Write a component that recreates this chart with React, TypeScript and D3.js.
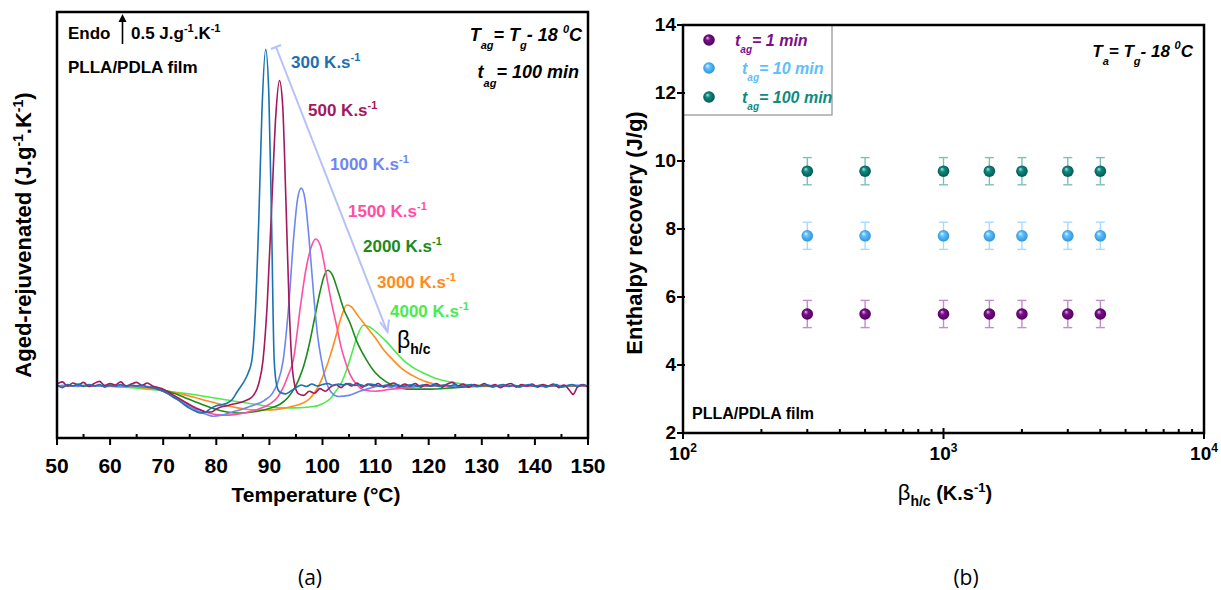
import React from 'react';
import * as d3 from 'd3';

const W = 1221;
const H = 590;

// ---------- Panel (a): Aged - rejuvenated curves (T in °C, value in J.g-1.K-1) ----------
const rateLabels = ['300', '500', '1000', '1500', '2000', '3000', '4000'];
const rateColors = ['#1B72B0', '#A3195B', '#6E86F2', '#FF4FA3', '#1C8A1C', '#FF8C1A', '#4CEB4C'];

const curve300: [number, number][] = [
  [50, 0.02], [51, -0.03], [52, 0.03], [53, 0.0], [54, 0.04], [55, -0.01], [56, 0.03], [57, 0.0], [58, 0.03], [59, -0.02],
  [60, 0.02], [61, 0.0], [62, 0.03], [63, -0.01], [64, 0.02], [65, 0.0], [66, 0.02], [67, -0.02], [68, -0.03], [69, -0.06],
  [70, -0.1], [71, -0.15], [72, -0.22], [73, -0.28], [74, -0.36], [75, -0.43], [76, -0.48], [77, -0.52], [78, -0.5], [79, -0.43],
  [80, -0.38], [81, -0.36], [82, -0.33], [83, -0.26], [84, -0.1], [85, 0.05], [86, 0.25], [86.7, 0.5], [87.3, 1.3], [88, 3.2],
  [88.6, 5.3], [89.3, 6.48], [89.9, 5.6], [90.4, 3.2], [90.9, 0.5], [91.4, 0.0], [92, -0.12], [93, -0.15], [94, -0.1], [95, -0.03],
  [96, 0.02], [97, -0.01], [98, 0.04], [99, 0.0], [100, 0.03], [101, 0.05], [102, 0.01], [103, 0.04], [104, 0.02], [105, 0.05],
  [106, 0.01], [107, 0.03], [108, 0.0], [109, 0.04], [110, 0.02], [111, -0.01], [112, 0.02], [113, 0.0], [114, 0.03], [115, -0.01],
  [116, 0.01], [117, 0.03], [118, -0.01], [119, 0.02], [120, 0.0], [121, 0.03], [122, -0.01], [123, 0.02], [124, 0.0], [125, 0.03],
  [126, -0.02], [127, 0.01], [128, 0.03], [129, -0.01], [130, 0.01], [131, 0.02], [132, -0.02], [133, 0.01], [134, 0.03], [135, -0.01],
  [136, 0.02], [137, -0.02], [138, 0.01], [139, 0.03], [140, -0.01], [141, 0.02], [142, -0.02], [143, 0.01], [144, 0.03], [145, -0.02],
  [146, 0.0], [147, 0.03], [148, -0.01], [149, 0.02], [150, 0.0],
];

const curve500: [number, number][] = [
  [50, 0.04], [51, 0.08], [52, 0.0], [53, 0.06], [54, 0.02], [55, 0.07], [56, -0.01], [57, 0.05], [58, 0.09], [59, 0.01],
  [60, 0.05], [61, 0.02], [62, 0.08], [63, 0.0], [64, 0.04], [65, 0.07], [66, 0.01], [67, 0.06], [68, 0.0], [69, -0.03],
  [70, -0.06], [71, -0.12], [72, -0.18], [73, -0.24], [74, -0.3], [75, -0.36], [76, -0.42], [77, -0.46], [78, -0.5], [79, -0.5],
  [80, -0.44], [81, -0.4], [82, -0.38], [83, -0.35], [84, -0.33], [85, -0.3], [86, -0.26], [87, -0.18], [88, 0.05], [88.8, 0.5],
  [89.6, 1.6], [90.4, 3.4], [91.2, 5.2], [91.9, 5.88], [92.5, 5.4], [93.1, 3.6], [93.7, 1.6], [94.2, 0.5], [94.8, 0.0], [95.5, -0.15],
  [96.5, -0.18], [97.5, -0.1], [98.5, -0.14], [99.5, -0.05], [100.5, -0.1], [101.5, -0.02], [102.5, 0.03], [103.5, -0.03], [104.5, 0.05], [105.5, 0.0],
  [106.5, 0.06], [107.5, -0.02], [108.5, 0.04], [109.5, 0.0], [110.5, 0.05], [111.5, -0.02], [112.5, 0.03], [113.5, 0.06], [114.5, -0.01], [115.5, 0.04],
  [116.5, 0.0], [117.5, 0.05], [118.5, -0.02], [119.5, 0.03], [120.5, 0.0], [121.5, 0.05], [122.5, -0.02], [123.5, 0.04], [124.5, 0.07], [125.5, 0.0],
  [126.5, 0.04], [127.5, -0.02], [128.5, 0.03], [129.5, 0.0], [130.5, 0.05], [131.5, -0.01], [132.5, 0.03], [133.5, -0.03], [134.5, 0.02], [135.5, 0.05],
  [136.5, -0.02], [137.5, 0.03], [138.5, 0.0], [139.5, 0.04], [140.5, -0.02], [141.5, 0.03], [142.5, 0.0], [143.5, 0.04], [144.5, -0.03], [145.5, 0.02],
  [146.5, -0.08], [147.2, -0.16], [148, -0.02], [149, 0.03], [150, -0.02],
];

const curve1000: [number, number][] = [
  [50, 0.0], [52, 0.02], [54, -0.01], [56, 0.02], [58, 0.0], [60, 0.02], [62, -0.01], [64, 0.01], [66, 0.0], [68, -0.02],
  [70, -0.1], [72, -0.22], [74, -0.34], [76, -0.45], [78, -0.54], [79.4, -0.58], [81, -0.56], [83, -0.5], [85, -0.44], [87, -0.37],
  [89, -0.28], [90.5, -0.15], [91.5, 0.05], [92.6, 0.5], [93.6, 1.5], [94.6, 2.9], [95.3, 3.6], [96, 3.81], [96.7, 3.6], [97.5, 2.8],
  [98.3, 1.8], [99.1, 0.95], [99.8, 0.5], [100.6, 0.12], [101.5, -0.1], [103, -0.2], [105, -0.18], [107, -0.1], [109, -0.04], [111, 0.0],
  [113, -0.02], [115, 0.01], [117, -0.01], [119, 0.02], [121, 0.0], [123, 0.02], [125, -0.01], [127, 0.01], [129, 0.0], [131, 0.02],
  [133, -0.01], [135, 0.01], [137, 0.0], [139, 0.02], [141, -0.01], [143, 0.01], [145, 0.0], [147, 0.02], [150, 0.0],
];

const curve1500: [number, number][] = [
  [50, 0.0], [54, 0.01], [58, 0.0], [62, 0.01], [66, 0.0], [68, -0.03], [70, -0.1], [72, -0.2], [74, -0.31], [76, -0.41],
  [78, -0.5], [80, -0.55], [82, -0.56], [84, -0.54], [86, -0.5], [88, -0.44], [90, -0.35], [91.5, -0.22], [92.5, -0.05], [93.5, 0.2],
  [94.5, 0.5], [95.8, 1.5], [96.8, 2.2], [97.8, 2.65], [98.7, 2.83], [99.6, 2.7], [100.6, 2.2], [101.6, 1.65], [102.7, 1.14], [103.5, 0.75],
  [104.2, 0.5], [105.2, 0.22], [106.5, 0.02], [108, -0.08], [110, -0.1], [113, -0.06], [117, -0.02], [120, 0.0], [125, 0.0], [130, 0.01],
  [135, 0.0], [140, 0.0], [145, 0.01], [150, 0.0],
];

const curve2000: [number, number][] = [
  [50, 0.0], [55, 0.01], [60, 0.0], [64, 0.0], [66, -0.01], [68, -0.03], [70, -0.07], [72, -0.14], [74, -0.22], [76, -0.3],
  [78, -0.38], [80, -0.45], [82, -0.5], [84, -0.52], [86, -0.51], [88, -0.48], [90, -0.43], [92, -0.35], [93.5, -0.22], [94.5, -0.08],
  [95.5, 0.12], [96.5, 0.4], [97.5, 0.8], [98.5, 1.3], [99.5, 1.8], [100.3, 2.12], [101, 2.23], [101.8, 2.15], [103, 1.8], [104, 1.48],
  [105.2, 1.21], [106.5, 0.85], [108.3, 0.5], [110, 0.25], [112, 0.08], [114, -0.02], [116, -0.06], [120, -0.06], [125, -0.03], [130, 0.0],
  [135, 0.0], [140, 0.0], [145, 0.0], [150, 0.0],
];

const curve3000: [number, number][] = [
  [50, 0.0], [55, 0.0], [60, 0.0], [62, 0.0], [64, -0.01], [66, -0.03], [68, -0.05], [70, -0.08], [72, -0.12], [74, -0.17],
  [76, -0.22], [78, -0.28], [80, -0.33], [82, -0.38], [84, -0.42], [86, -0.45], [88, -0.46], [90, -0.46], [92, -0.44], [94, -0.4],
  [96, -0.34], [97.5, -0.25], [98.5, -0.13], [99.5, 0.05], [100.5, 0.3], [101.5, 0.6], [102.5, 0.95], [103.5, 1.32], [104.6, 1.56], [105.5, 1.52],
  [106.5, 1.38], [108, 1.18], [110, 0.92], [111.5, 0.7], [113.3, 0.5], [115, 0.33], [117, 0.2], [119, 0.1], [121, 0.04], [124, 0.0],
  [127, -0.02], [130, -0.01], [135, 0.0], [140, 0.0], [145, 0.0], [150, 0.0],
];

const curve4000: [number, number][] = [
  [50, 0.0], [54, 0.0], [58, 0.0], [60, -0.01], [62, -0.02], [64, -0.03], [66, -0.05], [68, -0.07], [70, -0.09], [74, -0.14],
  [78, -0.2], [82, -0.27], [86, -0.33], [89, -0.38], [92, -0.42], [95, -0.42], [98, -0.4], [100, -0.34], [101.5, -0.24], [102.5, -0.1],
  [103.5, 0.05], [104.5, 0.3], [105.5, 0.62], [106.5, 0.95], [107.7, 1.17], [108.8, 1.14], [110, 1.05], [112, 0.86], [114, 0.63], [115.2, 0.5],
  [117, 0.36], [119, 0.25], [121, 0.16], [124, 0.08], [127, 0.03], [130, 0.01], [135, 0.0], [140, 0.0], [145, 0.0], [150, 0.0],
];

const curvesA = [curve300, curve500, curve1000, curve1500, curve2000, curve3000, curve4000];
const rateLabelPos: [number, number][] = [
  [291, 68], [308, 116], [330, 170], [348, 217], [363, 252], [377, 288], [390, 317],
];
const xTicksA = [50, 60, 70, 80, 90, 100, 110, 120, 130, 140, 150];
const xMinorTicksA = [55, 65, 75, 85, 95, 105, 115, 125, 135, 145];

// ---------- Panel (b): enthalpy recovery vs heating/cooling rate ----------
const betaValues = [300, 500, 1000, 1500, 2000, 3000, 4000];
const recovery1min = [5.5, 5.5, 5.5, 5.5, 5.5, 5.5, 5.5];
const recovery10min = [7.8, 7.8, 7.8, 7.8, 7.8, 7.8, 7.8];
const recovery100min = [9.7, 9.7, 9.7, 9.7, 9.7, 9.7, 9.7];
const recoveryError = [0.4, 0.4, 0.4, 0.4, 0.4, 0.4, 0.4];
const agingTimes = ['1', '10', '100'];
const seriesColors = ['#7A0F8A', '#5CC0FF', '#0E8A82'];
const seriesLight = ['#E7B8EE', '#E2F5FF', '#B5E6E2'];
const seriesDark = ['#4A0056', '#2E8ED0', '#04524C'];
const errColors = ['#C58BCE', '#A6DBFF', '#7CC0BC'];
const yTicksB = [2, 4, 6, 8, 10, 12, 14];
const xMajorB = [100, 1000, 10000];
const xMajorExp = ['2', '3', '4'];
const xMinorB = [200, 300, 400, 500, 600, 700, 800, 900, 2000, 3000, 4000, 5000, 6000, 7000, 8000, 9000];

const FONT = "'Liberation Sans', Arial, sans-serif";

export default function App() {
  // scales panel (a)
  const xA = d3.scaleLinear().domain([50, 150]).range([57, 588]);
  const yA = d3.scaleLinear().domain([-1, 7.2]).range([438, 12]);
  const lineA = d3
    .line<[number, number]>()
    .x((d) => xA(d[0]))
    .y((d) => yA(d[1]))
    .curve(d3.curveMonotoneX);

  // scales panel (b)
  const xB = d3.scaleLog().domain([100, 10000]).range([683, 1204]);
  const yB = d3.scaleLinear().domain([2, 14]).range([433, 25]);
  const seriesB = [recovery1min, recovery10min, recovery100min];

  const aL = xA.range()[0];
  const aR = xA.range()[1];
  const aT = yA.range()[1];
  const aB = yA.range()[0];
  const bL = xB.range()[0];
  const bR = xB.range()[1];
  const bT = yB.range()[1];
  const bB = yB.range()[0];

  const drawOrder = [6, 5, 4, 3, 2, 1, 0];

  return (
    <svg
      width={W}
      height={H}
      viewBox={`0 0 ${W} ${H}`}
      style={{ position: 'absolute', left: 0, top: 0, background: '#fff' }}
      fontFamily={FONT}
    >
      <defs>
        {seriesColors.map((c, i) => (
          <radialGradient key={i} id={`ball${i}`} cx="0.5" cy="0.5" r="0.55" fx="0.35" fy="0.3">
            <stop offset="0" stopColor={seriesLight[i]} />
            <stop offset="0.35" stopColor={c} />
            <stop offset="1" stopColor={seriesDark[i]} />
          </radialGradient>
        ))}
      </defs>
      <rect x={0} y={0} width={W} height={H} fill="#fff" />

      {/* ================= Panel (a) ================= */}
      <clipPath id="clipA">
        <rect x={aL} y={aT} width={aR - aL} height={aB - aT} />
      </clipPath>
      <g clipPath="url(#clipA)">
        {drawOrder.map((i) => (
          <path key={i} d={lineA(curvesA[i]) || ''} fill="none" stroke={rateColors[i]} strokeWidth={1.6} />
        ))}
      </g>

      {/* frame */}
      <rect x={aL} y={aT} width={aR - aL} height={aB - aT} fill="none" stroke="#000" strokeWidth={2.5} />
      {/* x ticks */}
      {xTicksA.map((t) => (
        <g key={t}>
          <line x1={xA(t)} x2={xA(t)} y1={aB} y2={aB + 7} stroke="#000" strokeWidth={2} />
          <text x={xA(t)} y={aB + 35} textAnchor="middle" fontSize={21} fontWeight="bold">
            {t}
          </text>
        </g>
      ))}
      {xMinorTicksA.map((t) => (
        <line key={t} x1={xA(t)} x2={xA(t)} y1={aB} y2={aB - 4} stroke="#000" strokeWidth={2} />
      ))}

      {/* axis labels */}
      <text x={316} y={502} textAnchor="middle" fontSize={21} fontWeight="bold">
        Temperature (°C)
      </text>
      <text transform={`translate(31,${235}) rotate(-90)`} textAnchor="middle" fontSize={22} fontWeight="bold">
        Aged-rejuvenated (J.g<tspan dy={-8} fontSize={14}>-1</tspan>
        <tspan dy={8}>.K</tspan>
        <tspan dy={-8} fontSize={14}>-1</tspan>
        <tspan dy={8}>)</tspan>
      </text>

      {/* annotations */}
      <text x={68} y={39} fontSize={17} fontWeight="bold">Endo</text>
      <line x1={122.5} x2={122.5} y1={44} y2={20} stroke="#000" strokeWidth={1.6} />
      <path d="M118.5,22 L122.5,14 L126.5,22 Z" fill="#000" />
      <text x={131} y={39} fontSize={17} fontWeight="bold">
        0.5 J.g<tspan dy={-7} fontSize={11}>-1</tspan>
        <tspan dy={7}>.K</tspan>
        <tspan dy={-7} fontSize={11}>-1</tspan>
      </text>
      <text x={68} y={73} fontSize={17} fontWeight="bold">PLLA/PDLA film</text>

      <text x={582} y={41} textAnchor="end" fontSize={18} fontWeight="bold" fontStyle="italic">
        T<tspan dy={8} fontSize={11}>ag</tspan>
        <tspan dy={-8}>= T</tspan>
        <tspan dy={8} fontSize={11}>g</tspan>
        <tspan dy={-8}>- 18 </tspan>
        <tspan dy={-8} fontSize={11}>0</tspan>
        <tspan dy={8}>C</tspan>
      </text>
      <text x={579} y={78} textAnchor="end" fontSize={18} fontWeight="bold" fontStyle="italic">
        t<tspan dy={9} fontSize={11}>ag</tspan>
        <tspan dy={-9}>= 100 min</tspan>
      </text>

      {rateLabels.map((r, i) => (
        <text key={r} x={rateLabelPos[i][0]} y={rateLabelPos[i][1]} fill={rateColors[i]} fontSize={17} fontWeight="bold">
          {r} K.s<tspan dy={-7} fontSize={11}>-1</tspan>
        </text>
      ))}

      {/* direction arrow */}
      <g stroke="#B5C2F7" strokeWidth={2} fill="none">
        <line x1={276} y1={47} x2={387} y2={331} />
        <line x1={271} y1={49} x2={281} y2={45} />
        <path d="M380,322 L387.5,332 L389,319.5" />
      </g>
      <text x={397} y={348} fontSize={23}>
        β<tspan dy={6} fontSize={14} fontWeight="bold">h/c</tspan>
      </text>

      {/* ================= Panel (b) ================= */}
      {/* legend box */}
      <rect x={bL} y={bT} width={149} height={90} fill="#fff" stroke="#9A9A9A" strokeWidth={1.3} />

      {/* error bars and points */}
      {seriesB.map((vals, si) => (
        <g key={si}>
          {betaValues.map((b, i) => {
            const cx = xB(b);
            const y1 = yB(vals[i] + recoveryError[i]);
            const y2 = yB(vals[i] - recoveryError[i]);
            return (
              <g key={i} stroke={errColors[si]} strokeWidth={1.4}>
                <line x1={cx} x2={cx} y1={y1} y2={y2} />
                <line x1={cx - 4.5} x2={cx + 4.5} y1={y1} y2={y1} />
                <line x1={cx - 4.5} x2={cx + 4.5} y1={y2} y2={y2} />
              </g>
            );
          })}
          {betaValues.map((b, i) => (
            <circle key={i} cx={xB(b)} cy={yB(vals[i])} r={5.8} fill={`url(#ball${si})`} />
          ))}
        </g>
      ))}

      {/* legend entries */}
      {agingTimes.map((t, i) => {
        const ly = [40, 68, 97][i];
        const tx = [735, 742, 742][i];
        return (
          <g key={t}>
            <circle cx={709} cy={ly} r={5.8} fill={`url(#ball${i})`} />
            <text x={tx} y={ly + 6} fill={seriesColors[i]} fontSize={16} fontWeight="bold" fontStyle="italic">
              t<tspan dy={7} fontSize={10}>ag</tspan>
              <tspan dy={-7}>= {t} min</tspan>
            </text>
          </g>
        );
      })}

      {/* frame */}
      <rect x={bL} y={bT} width={bR - bL} height={bB - bT} fill="none" stroke="#000" strokeWidth={2.5} />
      {yTicksB.map((t) => (
        <g key={t}>
          <line x1={bL - 6} x2={bL + 2} y1={yB(t)} y2={yB(t)} stroke="#000" strokeWidth={2} />
          <text x={bL - 7} y={yB(t) + 6} textAnchor="end" fontSize={19} fontWeight="bold">
            {t}
          </text>
        </g>
      ))}
      {xMajorB.map((t, i) => (
        <g key={t}>
          <line x1={xB(t)} x2={xB(t)} y1={bB - 5} y2={bB + 6} stroke="#000" strokeWidth={2} />
          <text x={xB(t)} y={bB + 27} textAnchor="middle" fontSize={19} fontWeight="bold">
            10<tspan dy={-8} fontSize={12}>{xMajorExp[i]}</tspan>
          </text>
        </g>
      ))}
      {xMinorB.map((t) => (
        <line key={t} x1={xB(t)} x2={xB(t)} y1={bB} y2={bB - 4} stroke="#000" strokeWidth={2} />
      ))}

      <text x={1193} y={57} textAnchor="end" fontSize={17} fontWeight="bold" fontStyle="italic">
        T<tspan dy={8} fontSize={11}>a</tspan>
        <tspan dy={-8}>= T</tspan>
        <tspan dy={8} fontSize={11}>g</tspan>
        <tspan dy={-8}>- 18 </tspan>
        <tspan dy={-8} fontSize={11}>0</tspan>
        <tspan dy={8}>C</tspan>
      </text>
      <text x={692} y={419} fontSize={16} fontWeight="bold">PLLA/PDLA film</text>

      <text transform={`translate(642,233) rotate(-90)`} textAnchor="middle" fontSize={22} fontWeight="bold">
        Enthalpy recovery (J/g)
      </text>
      <text x={945} y={500} textAnchor="middle" fontSize={22}>
        β<tspan dy={6} fontSize={14} fontWeight="bold">h/c</tspan>
        <tspan dy={-6} fontWeight="bold" fontSize={20}> (K.s</tspan>
        <tspan dy={-8} fontSize={13} fontWeight="bold">-1</tspan>
        <tspan dy={8} fontWeight="bold" fontSize={20}>)</tspan>
      </text>

      {/* panel captions */}
      <text x={310} y={585} textAnchor="middle" fontSize={21} fontFamily="'Open Sans', sans-serif">(a)</text>
      <text x={966} y={585} textAnchor="middle" fontSize={21} fontFamily="'Open Sans', sans-serif">(b)</text>
    </svg>
  );
}
